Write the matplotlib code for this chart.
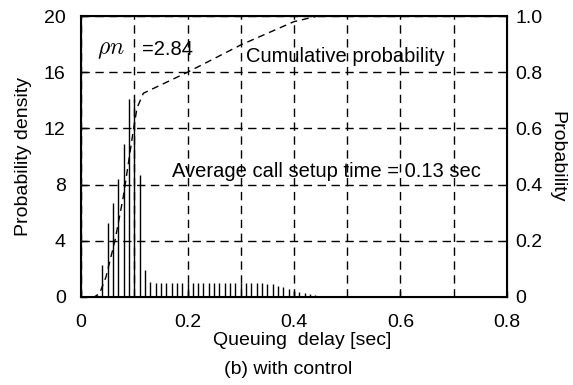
import numpy as np
import matplotlib
matplotlib.use("Agg")
import matplotlib.pyplot as plt

plt.rcParams["font.family"] = ["Liberation Sans", "DejaVu Sans"]
plt.rcParams["mathtext.fontset"] = "cm"

# histogram of queuing delay (bin centres in sec, density)
delay_bins = np.round(np.arange(0.03, 0.495, 0.01), 2)
density = [0.15, 2.3, 5.3, 6.7, 8.4, 10.9, 14.1, 14.1, 8.7, 1.9,
           1.05, 1.0, 1.0, 1.0, 1.0, 1.0, 1.0, 1.0, 1.0, 1.0,
           1.0, 1.0, 1.0, 1.0, 1.0, 1.0, 1.0, 1.0, 1.0,
           0.98, 0.97, 0.97, 0.96, 0.9, 0.8, 0.71, 0.6, 0.4,
           0.33, 0.26, 0.2, 0.15, 0.1, 0.07, 0.05, 0.03, 0.02]

# cumulative probability curve
cdf_x = [0.02, 0.025, 0.035, 0.047, 0.064, 0.080, 0.096, 0.105, 0.117,
         0.20, 0.30, 0.40, 0.445, 0.8]
cdf_p = [0.0, 0.0, 0.013, 0.072, 0.203, 0.363, 0.565, 0.672, 0.725,
         0.80, 0.897, 0.98, 1.0, 1.0]

fig = plt.figure(figsize=(5.73, 3.85), dpi=100)
ax = fig.add_axes([0.1414, 0.2286, 0.7434, 0.7298])

ax.vlines(delay_bins, 0, density, colors="k", lw=1.0)

ax.set_xlim(0, 0.8)
ax.set_ylim(0, 20)
ax.set_xticks([0, 0.2, 0.4, 0.6, 0.8])
ax.set_xticklabels(["0", "0.2", "0.4", "0.6", "0.8"])
ax.set_xticks(np.arange(0.1, 0.8, 0.2), minor=True)
ax.set_yticks([0, 4, 8, 12, 16, 20])
ax.tick_params(axis="both", which="both", direction="in", labelsize=14,
               length=4, width=1)
ax.tick_params(axis="x", which="minor", length=0)
ax.tick_params(axis="y", pad=11)
ax.tick_params(axis="x", pad=12)
ax.grid(True, which="both", axis="x", ls=(0, (6, 4)), color="k", lw=1)
ax.grid(True, which="major", axis="y", ls=(0, (6, 4)), color="k", lw=1)
for s in ax.spines.values():
    s.set_linewidth(1.5)

ax.set_ylabel("Probability density", fontsize=14)
ax.yaxis.set_label_coords(-0.135, 0.5)
ax.yaxis.label.set_va("center")
ax.set_xlabel("Queuing  delay [sec]", fontsize=14)
ax.xaxis.set_label_coords(0.52, -0.155)
ax.xaxis.label.set_va("center")

ax2 = ax.twinx()
ax2.plot(cdf_x, cdf_p, color="k", lw=1, ls=(0, (5, 3.5)))
ax2.set_ylim(0, 1.0)
ax2.set_yticks([0, 0.2, 0.4, 0.6, 0.8, 1.0])
ax2.set_yticklabels(["0", "0.2", "0.4", "0.6", "0.8", "1.0"])
ax2.tick_params(axis="y", direction="in", labelsize=14, length=4, pad=6)
ax2.set_ylabel("Probability", fontsize=14, rotation=-90)
ax2.yaxis.set_label_coords(1.117, 0.5)
ax2.yaxis.label.set_va("center")

ax.text(0.03, 17.6, r"$\rho n$", fontsize=17, va="center")
ax.text(0.1146, 17.6, "=2.84", fontsize=14.5, va="center")
ax.text(0.31, 17.1, "Cumulative probability", fontsize=14.5, va="center")
ax.text(0.171, 8.9, "Average call setup time = 0.13 sec", fontsize=14.5,
        va="center")

fig.text(0.503, 0.040, "(b) with control", fontsize=14, ha="center",
         va="center")

fig.savefig("out.png", dpi=100)
